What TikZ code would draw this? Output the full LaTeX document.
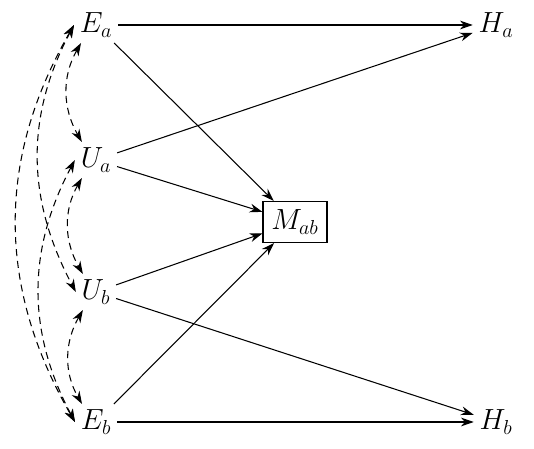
\documentclass[tikz,border=0pt]{standalone}
\usepackage{amsmath}
\usetikzlibrary{arrows.meta}
\tikzset{
  var/.style={inner sep=0.14cm, font=\huge},
  bx/.style={draw, line width=0.8pt, minimum width=1.6cm, minimum height=1.025cm, font=\huge},
  cause/.style={-{Stealth[length=3.2mm,width=2.2mm]}, line width=0.75pt},
  corr/.style={{Stealth[length=3.2mm,width=2.2mm]}-{Stealth[length=3.2mm,width=2.2mm]},
               line width=0.75pt, dash pattern=on 5pt off 3.5pt},
}

\begin{document}
\begin{tikzpicture}
    \useasboundingbox (0,0) rectangle (13.35,11.225);
    \node[var] (Ea) at (2.4,10.6) {$E_a$};
    \node[var] (Ua) at (2.4,7.225) {$U_a$};
    \node[var] (Ub) at (2.4,3.925) {$U_b$};
    \node[var] (Eb) at (2.4,0.675) {$E_b$};
    \node[var] (Ha) at (12.4,10.6) {$H_a$};
    \node[var] (Hb) at (12.4,0.675) {$H_b$};
    \node[bx] (Mab) at (7.375,5.675) {$M_{ab}$};
    % causal paths
    \draw[cause] (Ea) -- (Ha);
    \draw[cause] (Ua) -- (Ha);
    \draw[cause] (Ub) -- (Hb);
    \draw[cause] (Eb) -- (Hb);
    \foreach \v in {Ea,Ua,Ub,Eb}
      \draw[cause] (\v) -- (Mab);
    % correlations
    \draw[corr] (Ea.west) to[out=-118,in=118] (Ub.west);
    \draw[corr] (Ea.west) to[out=-120,in=120] (Eb.west);
    \draw[corr] (Ua.west) to[out=-118,in=118] (Eb.west);
    \draw[corr] ([xshift=5pt]Ea.south west) to[out=-120,in=120] ([xshift=5pt]Ua.north west);
    \draw[corr] ([xshift=5pt]Ua.south west) to[out=-120,in=120] ([xshift=5pt]Ub.north west);
    \draw[corr] ([xshift=5pt]Ub.south west) to[out=-120,in=120] ([xshift=5pt]Eb.north west);
\end{tikzpicture}
\end{document}
